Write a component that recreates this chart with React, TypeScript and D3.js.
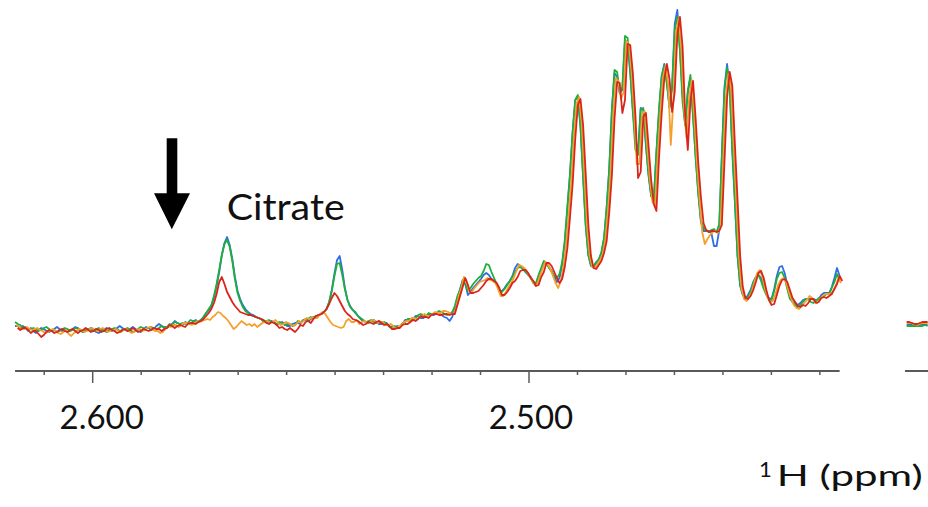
import React from 'react';
import * as d3 from 'd3';

// Acquisition grid of the spectrum (ppm of first point, ppm step)
const PPM_START = 2.6178;
const PPM_STEP = -0.0006;

// Shared spectral envelope (a.u.), one value per grid point
const envelope = [
  4,3,3,2,2,1,1,0,0,0,
  0,0,0,0,0,0,0,0,0,0,
  0,0,0,0,0,0,0,0,0,0,
  0,0,0,0,0,0,0,0,0,0,
  0,0,0,0,0,0,0,0,0,0,
  1,1,1,1,2,2,2,2,3,3,
  3,4,4,5,5,6,6,7,7,8,
  8,8,8,8,8,8,8,8,8,8,
  8,9,9,9,9,9,9,9,9,9,
  9,9,9,9,9,8,8,8,8,8,
  6,6,6,6,6,5,5,5,7,7,
  9,9,9,12,12,12,12,12,12,12,
  12,12,12,12,12,11,11,11,9,9,
  9,8,8,8,8,8,8,8,8,8,
  7,6,5,4,3,2,3,4,6,8,
  9,10,11,12,13,13,14,14,15,15,
  16,16,17,17,16,16,15,16,23,32,
  40,50,48,39,40,43,45,47,49,52,
  56,55,52,49,45,40,39,41,44,47,
  51,57,62,62,61,59,55,52,48,47,
  54,60,68,67,63,58,53,50,53,64,
  85,118,152,195,228,233,205,155,105,75,
  64,64,67,70,77,90,120,158,215,254,
  252,235,240,290,288,260,222,172,170,218,
  220,186,154,132,127,175,218,252,264,248,
  220,242,300,316,285,230,200,235,252,213,
  170,135,108,100,99,98,99,99,98,105,
  170,235,260,245,185,132,77,45,35,32,
  34,38,45,52,55,50,40,33,30,30,
  38,48,55,57,52,42,33,28,26,26,
  27,28,30,32,31,29,29,31,33,34,
  35,36,40,44,50,46,
];

// Per-sample differences of each sample from the envelope (includes citrate signals)
const blueDelta = [
  0,1,-1,2,0,-2,1,-1,-3,0,
  2,1,-1,-2,0,1,3,1,-1,0,
  -2,-1,1,3,2,0,-2,-1,1,2,
  0,-2,-3,-1,1,2,1,-1,0,2,
  4,2,0,-1,1,3,1,-1,-2,0,
  2,1,-1,0,2,4,2,0,-1,1,
  3,5,3,1,0,2,1,-1,1,2,
  0,2,5,9,12,16,25,36,50,67,
  79,84,76,62,44,30,22,16,12,9,
  7,6,4,3,2,1,0,-1,1,0,
  -1,1,2,0,-2,-1,1,2,0,-1,
  1,2,0,-1,1,2,3,4,6,9,
  16,28,44,58,62,49,31,19,15,11,
  8,6,3,1,0,-1,1,2,0,-2,
  -1,1,2,0,-2,0,1,-1,0,2,
  1,-1,0,2,1,-1,-2,0,1,0,
  -1,1,0,-2,-3,-4,-6,-3,-2,0,
  1,0,-2,-4,-2,-1,0,1,2,3,
  1,0,-1,0,1,-1,0,1,2,2,
  3,5,4,2,0,-1,0,1,0,-1,
  0,1,0,-1,0,1,0,-2,-1,1,
  2,3,4,3,2,0,-2,-1,0,0,
  0,-1,0,1,0,1,2,4,6,3,
  1,2,0,0,-2,-3,-2,18,8,4,
  0,-2,0,2,3,2,0,1,2,0,
  2,0,6,4,-4,5,6,3,0,2,
  3,2,0,-1,0,1,-2,-15,-14,-5,
  5,8,6,-2,-6,-5,-3,-1,0,-1,
  1,2,3,1,0,2,4,3,2,1,
  3,6,8,7,5,3,2,0,1,-1,
  0,2,1,-1,0,2,1,0,2,3,
  2,1,3,8,12,8,
];

const greenDelta = [
  4,3,2,0,1,-1,0,2,1,-1,
  0,2,3,1,-1,0,-2,-1,1,2,
  1,-1,0,2,1,-1,-2,0,1,0,
  -1,1,2,0,-1,-2,0,1,2,1,
  -1,0,1,2,0,-2,-1,1,3,2,
  0,1,2,1,-1,0,2,1,0,3,
  2,4,3,1,2,0,1,3,2,1,
  0,2,5,9,13,17,26,38,52,67,
  78,81,74,60,42,28,20,14,10,8,
  6,5,4,3,2,0,1,2,0,-1,
  0,2,1,-1,0,1,-1,0,2,1,
  0,1,2,1,0,2,3,4,6,9,
  16,27,42,54,55,44,30,19,14,11,
  9,6,4,2,0,1,2,0,-1,1,
  0,2,1,-1,0,2,0,-1,1,0,
  2,1,-1,0,2,3,1,0,2,1,
  0,1,2,1,0,-1,1,2,1,2,
  0,-1,-2,0,2,3,4,5,5,7,
  10,10,6,3,1,0,-1,0,1,2,
  2,1,0,1,0,-1,1,0,-1,0,
  1,2,1,0,-1,0,1,2,3,4,
  5,6,4,3,2,2,-1,-2,-1,0,
  1,0,1,0,1,2,3,3,4,6,
  6,2,3,4,4,0,-4,8,5,3,
  2,0,2,2,2,3,3,2,0,-2,
  3,2,0,-3,-6,-2,4,4,3,0,
  2,1,2,2,1,0,1,2,0,1,
  3,4,2,-3,-5,-4,-3,0,1,0,
  -1,0,2,1,0,-1,1,2,1,0,
  1,3,2,1,0,-1,-2,0,-1,-3,
  -2,0,1,-1,-3,-2,0,1,-1,0,
  1,0,2,4,6,4,
];

const redDelta = [
  -2,-3,-1,0,-2,-4,-2,-1,-4,-7,
  -5,-2,0,-1,-3,-2,0,1,-1,-2,
  0,1,-1,-3,-1,0,2,0,-2,-1,
  1,0,-2,-1,1,2,0,-1,-3,-2,
  0,1,-1,0,2,0,-2,-1,1,0,
  -2,-1,1,0,-1,-3,-1,0,2,1,
  -1,0,1,-1,-2,0,1,0,-1,0,
  1,3,6,9,13,19,28,40,45,38,
  30,24,19,15,12,9,8,7,6,6,
  5,4,3,2,1,-1,-2,0,-1,-3,
  -4,-3,-5,-6,-4,-5,-7,-4,-2,-3,
  -1,0,-2,-1,2,3,4,6,9,14,
  20,25,22,17,12,8,5,3,2,1,
  0,-1,-3,-2,0,-1,-2,0,1,-1,
  -2,0,-1,-3,-2,0,-1,1,0,-2,
  -1,0,-2,-1,1,0,-1,-2,0,1,
  0,-1,-2,-1,0,-1,1,0,2,2,
  3,2,-3,-2,-3,-5,-6,-5,-4,-3,
  -5,-4,-3,-2,-3,-5,-4,-3,-2,0,
  -2,-4,-3,-2,-1,-2,-3,-3,-4,-2,
  -1,-2,-1,0,1,0,-1,-3,-2,-1,
  -3,-5,-6,-4,-3,-2,0,1,0,-1,
  -2,-3,-2,-1,0,-1,-2,-3,-4,-6,
  -5,-18,-10,-4,-3,-3,-8,-20,-12,-5,
  -3,-2,-4,-6,-8,-3,-2,-1,2,3,
  -2,-4,-5,-3,-2,-15,-20,-6,-3,-2,
  -3,-2,-1,0,-1,1,0,-1,1,0,
  -2,-3,-2,-1,0,-2,-3,-2,-3,-1,
  0,2,3,5,4,2,0,-3,-5,-4,
  -3,-4,-5,-6,-4,-2,-1,0,-2,-3,
  -2,-4,-3,-1,0,-2,-1,1,0,-2,
  -1,0,1,2,4,3,
];

const orangeDelta = [
  1,0,-2,-1,1,0,-1,1,2,0,
  -1,-3,-2,0,1,-1,-3,-4,-2,0,
  -4,-6,-3,-1,1,0,-2,-1,1,2,
  0,-1,1,2,0,-2,-1,0,1,-1,
  -2,0,1,-1,-3,-2,0,1,-1,0,
  1,2,0,-2,-3,-5,-4,-1,1,0,
  2,1,-1,0,2,1,0,-2,-1,1,
  0,1,2,3,2,5,7,10,9,6,
  4,0,-4,-8,-6,-3,0,-2,-4,-3,
  -5,-3,-6,-4,-2,0,1,-1,0,2,
  1,-1,0,2,1,0,-1,1,2,0,
  1,3,2,1,0,0,4,6,4,0,
  -4,-7,-8,-9,-10,-8,-2,0,-1,-1,
  1,-2,0,1,-1,0,2,1,-1,0,
  1,-1,0,2,1,-1,0,1,2,1,
  0,2,1,-1,0,1,2,0,-1,1,
  2,1,0,2,3,2,1,0,-1,2,
  2,3,1,-1,-2,-1,0,1,0,-2,
  -4,-5,-3,-2,-4,-6,-5,-3,-1,0,
  1,2,3,2,1,0,-1,-2,-3,-1,
  0,1,0,-1,-2,-4,-6,-8,-4,-1,
  0,-2,-3,-2,-1,0,1,0,-1,0,
  -1,-2,-1,0,-1,0,-1,-2,-1,-2,
  -3,-4,-2,-1,-2,-1,-4,-6,-4,-2,
  -1,-2,-3,-4,-3,-2,-1,0,0,-2,
  -35,-12,-3,-5,-4,-6,-8,-3,-2,-1,
  -2,-4,-10,-14,-8,-3,-1,0,-1,-2,
  -2,-3,-4,-2,0,-1,-2,-3,-4,-3,
  -1,1,3,5,5,3,1,-1,-2,-1,
  -2,-3,-5,-5,-4,-3,-2,-3,-4,-5,
  -3,-1,0,2,1,-1,-2,0,1,2,
  1,0,-1,0,2,1,
];

// Second (cut-off) panel on the right
const PANEL2_PPM_START = 2.415;
const panel2Blue = [5,5,5,4,4,5,5,5,5];
const panel2Green = [4,4,4,4,4,4,4,5,4];
const panel2Orange = [7,7,7,6,5,6,7,7,7];
const panel2Red = [8,8,7,6,6,7,8,8,8];

const seriesKeys = ['blue', 'green', 'orange', 'red'];
const seriesDeltas = { blue: blueDelta, green: greenDelta, orange: orangeDelta, red: redDelta };
const seriesPanel2 = { blue: panel2Blue, green: panel2Green, orange: panel2Orange, red: panel2Red };
// referencing offsets of each sample (ppm)
const seriesPpmOffset = { blue: 0, green: 0, orange: -0.0003, red: -0.0006 };
const seriesColors = { blue: '#2f6fe0', green: '#1fae3a', orange: '#f5a02a', red: '#d9261c' };

const majorTicks = [2.6, 2.5];
const majorTickLabels = ['2.600', '2.500'];
const minorTickStep = 0.1 / 9;
const minorTickIndex = d3.range(-1, 16);

const FONT = 'Lato, "Open Sans", sans-serif';

export default function App() {
  const width = 928;
  const height = 507;
  const axisY = 371;

  const x = d3.scaleLinear().domain([2.6, 2.5]).range([92.7, 529]);
  const x2 = d3.scaleLinear().domain([PANEL2_PPM_START, PANEL2_PPM_START - 0.01]).range([906.7, 950.3]);
  const y = d3.scaleLinear().domain([0, 320]).range([330, 10]);

  const n = envelope.length;
  const ppmEnd = PPM_START + (n - 1) * PPM_STEP;

  const makeLine = (key: string) => {
    const delta = (seriesDeltas as any)[key] as number[];
    const off = (seriesPpmOffset as any)[key] as number;
    const vals = envelope.map((e, i) => e + (delta[i] ?? 0));
    return d3
      .line<number>()
      .x((_, i) => x(PPM_START + i * PPM_STEP + off))
      .y((d) => y(d))(vals) as string;
  };

  const makeLine2 = (key: string) => {
    const vals = (seriesPanel2 as any)[key] as number[];
    return d3
      .line<number>()
      .x((_, i) => x2(PANEL2_PPM_START + i * PPM_STEP))
      .y((d) => y(d))(vals) as string;
  };

  const labelNudge = [9, 2];

  return (
    <svg
      width={width}
      height={height}
      style={{ position: 'absolute', left: 0, top: 0, background: '#fff' }}
      fontFamily={FONT}
    >
      <rect x={0} y={0} width={width} height={height} fill="#fff" />
      {/* spectra */}
      {seriesKeys.map((k) => (
        <path key={k} d={makeLine(k)} fill="none" stroke={(seriesColors as any)[k]} strokeWidth={1.8} strokeLinejoin="round" />
      ))}
      {seriesKeys.map((k) => (
        <path key={'p2' + k} d={makeLine2(k)} fill="none" stroke={(seriesColors as any)[k]} strokeWidth={1.8} strokeLinejoin="round" />
      ))}

      {/* main axis */}
      <line x1={x(PPM_START)} x2={x(ppmEnd)} y1={axisY} y2={axisY} stroke="#5a5a5a" strokeWidth={2} />
      {minorTickIndex.map((k) => {
        const t = 2.6 - k * minorTickStep;
        const isMajor = majorTicks.some((m) => Math.abs(m - t) < 1e-6);
        return (
          <line key={k} x1={x(t)} x2={x(t)} y1={axisY} y2={axisY + (isMajor ? 12 : 4)} stroke="#5a5a5a" strokeWidth={1.5} />
        );
      })}
      {majorTicks.map((t, i) => (
        <text key={t} x={x(t) + labelNudge[i]} y={429} textAnchor="middle" fontSize={33} fill="#111">
          {majorTickLabels[i]}
        </text>
      ))}

      {/* second panel axis fragment */}
      <line x1={x2(PANEL2_PPM_START + 0.0004)} x2={x2(PANEL2_PPM_START - 0.02)} y1={axisY} y2={axisY} stroke="#5a5a5a" strokeWidth={2} />

      {/* annotation */}
      <path d="M166.7,138.3 L177.3,138.3 L177.3,193.3 L190,193.3 L171.8,229.3 L154,193.3 L166.7,193.3 Z" fill="#000" />
      <text x={226.7} y={220} fontSize={37} fill="#111" textLength={118} lengthAdjust="spacingAndGlyphs">
        Citrate
      </text>

      {/* axis title */}
      <text x={759} y={477} fontSize={22} fill="#111">1</text>
      <text x={776.7} y={486} fontSize={29} fill="#111" textLength={146} lengthAdjust="spacingAndGlyphs">
        H (ppm)
      </text>
    </svg>
  );
}
